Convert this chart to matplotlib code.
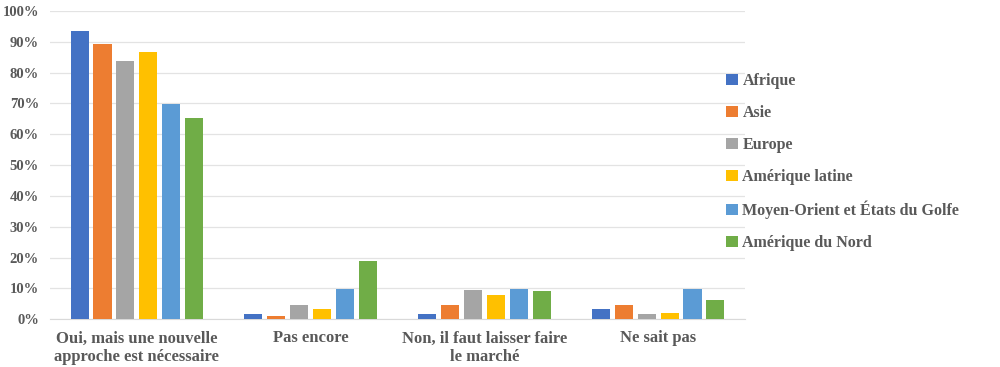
import matplotlib
matplotlib.use("Agg")
import matplotlib.pyplot as plt
import numpy as np
from matplotlib.ticker import FuncFormatter

categories = ["Oui, mais une nouvelle\napproche est nécessaire", "Pas encore",
              "Non, il faut laisser faire\nle marché", "Ne sait pas"]
series_names = ["Afrique", "Asie", "Europe", "Amérique latine",
                "Moyen-Orient et États du Golfe", "Amérique du Nord"]
afrique = [93.5, 1.6, 1.6, 3.2]
asie = [89.3, 1.1, 4.7, 4.7]
europe = [83.8, 4.5, 9.6, 1.8]
amerique_latine = [86.7, 3.2, 8.0, 2.1]
moyen_orient = [69.8, 9.8, 9.8, 9.8]
amerique_nord = [65.4, 18.8, 9.3, 6.3]
colors = ["#4472C4", "#ED7D31", "#A5A5A5", "#FFC000", "#5B9BD5", "#70AD47"]

series = [afrique, asie, europe, amerique_latine, moyen_orient, amerique_nord]

plt.rcParams['font.family'] = ['Liberation Serif', 'DejaVu Serif']
txt = "#595959"

fig = plt.figure(figsize=(10, 3.67), dpi=100)
ax = fig.add_axes([0.05, 0.13, 0.695, 0.84])
x = np.arange(len(categories))
pitch = 0.132
for i, (vals, name, c) in enumerate(zip(series, series_names, colors)):
    ax.bar(x + (i - 2.5) * pitch, vals, width=0.104, color=c, label=name, zorder=3)

ax.set_xlim(-0.5, 3.5)
ax.set_ylim(0, 100)
ax.set_yticks(np.arange(0, 101, 10))
ax.yaxis.set_major_formatter(FuncFormatter(lambda v, p: f"{int(v)}%"))
ax.grid(axis='y', color='#E3E3E3', linewidth=0.9, zorder=0)
for s in ['top', 'right', 'left']:
    ax.spines[s].set_visible(False)
ax.spines['bottom'].set_color('#D9D9D9')
ax.tick_params(axis='both', length=0, colors=txt)
ax.set_xticks(x)
ax.set_xticklabels(categories, fontsize=12, fontweight='bold', color=txt)
for lab in ax.get_yticklabels():
    lab.set_fontsize(10.5)
    lab.set_fontweight('bold')
ax.tick_params(axis='x', pad=8)
ax.tick_params(axis='y', pad=8)

leg = fig.legend(loc='upper left', bbox_to_anchor=(0.712, 0.84), frameon=False,
                 handlelength=0.7, handleheight=0.7, handletextpad=0.3,
                 labelspacing=1.0, prop={'size': 11.5, 'weight': 'bold'})
for t in leg.get_texts():
    t.set_color(txt)

fig.savefig("out.png", dpi=100)
